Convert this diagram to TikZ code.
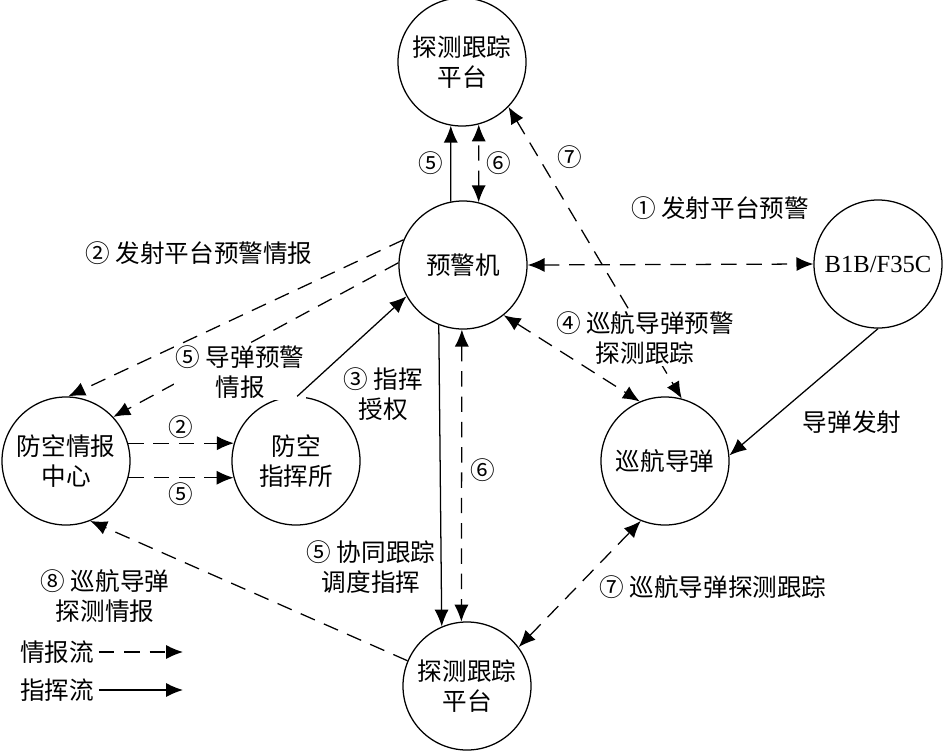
\documentclass[tikz,border=0pt]{standalone}
\usepackage{fontspec}
\setmainfont{Noto Sans CJK SC}
\newfontfamily\latinfont{Liberation Serif}
\usetikzlibrary{arrows.meta}

\begin{document}
\begin{tikzpicture}[
    x=0.025cm, y=-0.025cm,
    font=\fontsize{17.5}{21}\selectfont,
    >={Latex[length=12pt,width=10pt]},
    station/.style={circle, draw, line width=0.9pt, minimum size=3.2cm, inner sep=0pt, align=center},
    info/.style={line width=0.9pt, dash pattern=on 11pt off 7pt},
    order/.style={line width=0.9pt},
    lbl/.style={align=center, inner sep=1pt}
]
\useasboundingbox (0,0) rectangle (945,750);

% Stations
\node[station] (topplat) at (462,62) {探测跟踪\\平台};
\node[station] (awacs) at (463,265) {预警机};
\node[station] (bomber) at (878,264) {\latinfont B1B/F35C};
\node[station] (cruise) at (665,461) {巡航导弹};
\node[station] (infoc) at (66,461) {防空情报\\中心};
\node[station] (cmdpost) at (296,461) {防空\\指挥所};
\node[station] (botplat) at (467,686) {探测跟踪\\平台};

% Awacs and upper platform
\draw[order, ->] (awacs.101) -- (topplat.260) node[lbl, midway, left=4pt] {⑤};
\draw[info, <->] (awacs.76) -- (topplat.285) node[lbl, midway, right=4pt] {⑥};
\draw[info, <->] (topplat.316) -- (cruise.75);
\node[lbl] at (570,157) {⑦};

% Awacs and bomber
\draw[info, <->] (awacs.east) -- (bomber.west);
\node[lbl] at (720,208) {① 发射平台预警};
\node[lbl, fill=white] at (645,338) {④ 巡航导弹预警\\探测跟踪};
\draw[info, <->] (awacs.309) -- (cruise.113);
\draw[order, ->] (bomber.south) -- (cruise.5);
\node[lbl] at (852,422) {导弹发射};

% Awacs to information centre
\draw[info, ->] (awacs.157) -- (infoc.88);
\draw[info, ->] (awacs.178) -- (infoc.43);
\node[lbl] at (199,253) {② 发射平台预警情报};
\node[lbl, fill=white] at (240,372) {⑤ 导弹预警\\情报};

% Command post
\draw[order, ->] (cmdpost.89) -- (awacs.209);
\node[lbl] at (383,394) {③ 指挥\\授权};
\draw[info, ->] (infoc.16) -- (cmdpost.164) node[lbl, midway, above=2pt] {②};
\draw[info, ->] (infoc.345) -- (cmdpost.195) node[lbl, midway, below=2pt] {⑤};

% Lower platform
\draw[order, ->] (awacs.248) -- (botplat.113);
\draw[info, <->] (awacs.269) -- (botplat.95);
\node[lbl] at (483,470) {⑥};
\node[lbl] at (371,567) {⑤ 协同跟踪\\调度指挥};
\draw[info, ->] (botplat.157) -- (infoc.292);
\node[lbl] at (105,596) {⑧ 巡航导弹\\探测情报};
\draw[info, <->] (botplat.37) -- (cruise.248);
\node[lbl] at (713,587) {⑦ 巡航导弹探测跟踪};

% Legend
\node (leginfo) at (57,652) {情报流};
\coordinate (leginfoend) at (183,652);
\draw[info, ->] (leginfo.east) -- (leginfoend);
\node (legorder) at (57,690) {指挥流};
\coordinate (legorderend) at (183,690);
\draw[order, ->] (legorder.east) -- (legorderend);

\end{tikzpicture}
\end{document}
